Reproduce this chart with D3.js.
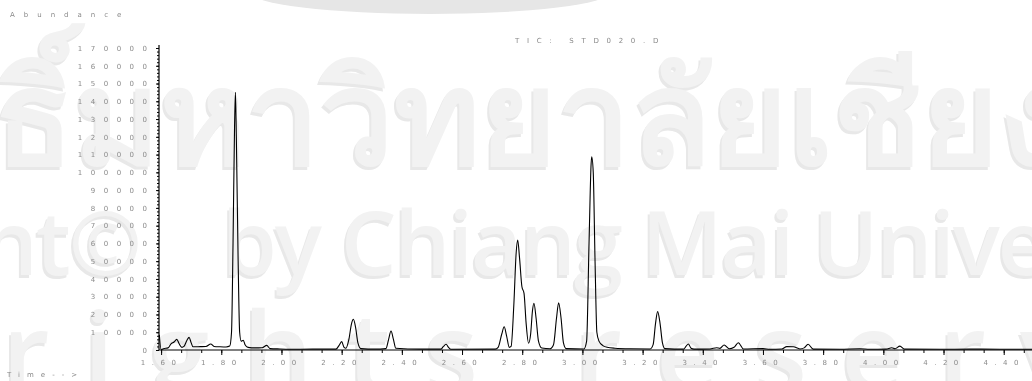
<!DOCTYPE html>
<html>
<head>
<meta charset="utf-8">
<script src="https://cdn.jsdelivr.net/npm/d3@7"></script>
<style>
  html, body { margin: 0; padding: 0; background: #fff; }
  svg { display: block; }
  .lbl { font-family: "DejaVu Sans", sans-serif; font-size: 7px; fill: #8a8a8a; }
  .wm { font-family: "Open Sans", "DejaVu Sans", sans-serif; }
</style>
</head>
<body>
<svg id="chart" width="1032" height="381"></svg>
<script>
// Total ion chromatogram, retention time (min) vs abundance
const retentionTime = [
  1.594, 1.600, 1.610, 1.623, 1.633, 1.643, 1.652, 1.660, 1.669, 1.676,
  1.686, 1.693, 1.700, 1.706, 1.730, 1.749, 1.765, 1.776, 1.796, 1.816,
  1.828, 1.834, 1.839, 1.844, 1.847, 1.850, 1.856, 1.861, 1.866, 1.873,
  1.879, 1.889, 1.912, 1.936, 1.951, 1.962, 1.995, 2.062, 2.128, 2.181,
  2.191, 2.200, 2.208, 2.214, 2.224, 2.233, 2.239, 2.246, 2.254, 2.264,
  2.311, 2.347, 2.356, 2.364, 2.372, 2.380, 2.460, 2.530, 2.538, 2.547,
  2.555, 2.563, 2.710, 2.720, 2.732, 2.740, 2.748, 2.757, 2.763, 2.772,
  2.780, 2.785, 2.791, 2.799, 2.806, 2.813, 2.821, 2.828, 2.834, 2.839,
  2.846, 2.854, 2.865, 2.892, 2.904, 2.914, 2.921, 2.929, 2.937, 2.946,
  3.005, 3.014, 3.022, 3.029, 3.031, 3.036, 3.042, 3.048, 3.055, 3.068,
  3.082, 3.108, 3.158, 3.225, 3.235, 3.243, 3.250, 3.258, 3.266, 3.274,
  3.337, 3.344, 3.352, 3.361, 3.371, 3.424, 3.446, 3.457, 3.471, 3.488,
  3.504, 3.518, 3.535, 3.600, 3.623, 3.663, 3.679, 3.701, 3.723, 3.737,
  3.750, 3.767, 3.856, 3.922, 3.955, 4.009, 4.028, 4.039, 4.055, 4.070,
  4.188, 4.288, 4.387, 4.494
];
const abundance = [
  8500, 300, 800, 1200, 3500, 4500, 6000, 3500, 1500, 2000,
  5500, 7100, 4000, 1800, 1900, 2000, 3400, 2000, 1800, 1700,
  2200, 10000, 60000, 125000, 145000, 120000, 50000, 10000, 5000, 5500,
  3000, 1500, 1200, 1300, 2600, 800, 600, 400, 500, 500,
  2500, 4700, 1500, 1000, 6000, 15000, 17300, 13000, 4000, 800,
  500, 800, 6000, 10700, 6000, 1000, 500, 500, 2000, 3200,
  1500, 400, 500, 1500, 9000, 13100, 8000, 1500, 2000, 25000,
  55000, 61900, 52000, 35600, 31900, 15000, 3800, 9000, 22000, 26300,
  18000, 5000, 1100, 700, 3000, 18000, 26600, 18000, 4000, 800,
  600, 5000, 60000, 105000, 108800, 100000, 50000, 10000, 5000, 2500,
  1500, 1000, 700, 600, 3000, 15000, 21600, 15000, 4000, 800,
  500, 2000, 3400, 1000, 500, 600, 1300, 900, 2800, 700,
  1500, 4100, 600, 800, 400, 600, 1900, 1800, 600, 1200,
  3200, 500, 400, 700, 400, 500, 1300, 700, 2200, 500,
  400, 500, 400, 400
];
const yTickValues = d3.range(0, 170001, 10000);
const xTickValues = [1.60, 1.80, 2.00, 2.20, 2.40, 2.60, 2.80, 3.00, 3.20, 3.40, 3.60, 3.80, 4.00, 4.20, 4.40];
const titleText = "TIC: STD020.D";
const yAxisTitle = "Abundance";
const xAxisTitle = "Time-->";

const svg = d3.select("#chart");

// faint background watermark
const wm = svg.append("g").attr("class", "wm");
wm.append("ellipse").attr("cx", 430).attr("cy", -8).attr("rx", 180).attr("ry", 22).attr("fill", "#e6e6e6");
function wmText(str, x, y, size, ls, weight, anchor) {
  [["#e8e8e8", -2, 3], ["#f2f2f2", 0, 0]].forEach(([c, dx, dy]) => {
    wm.append("text").attr("x", x + dx).attr("y", y + dy)
      .attr("font-size", size).attr("font-weight", weight)
      .attr("text-anchor", anchor || "start")
      .attr("letter-spacing", ls).attr("fill", c).text(str);
  });
}
wmText("ธิ์มหาวิทยาลัยเชียงใหม่", -6, 164, 131, 0, 700);
wmText("Copyright©", 140, 275, 88, -2, 600, "end");
wmText("by Chiang Mai University", 222, 275, 88, -2, 600);
wmText("rights reserved", 2, 392, 110, 34, 600);

const x = d3.scaleLinear().domain([1.593, 4.494]).range([159, 1032]);
const y = d3.scaleLinear().domain([0, 170000]).range([350, 48]);

// x axis: minor ticks, then major ticks with labels
const xAxisG = svg.append("g").attr("transform", "translate(0,350)");
xAxisG.append("g")
  .call(d3.axisBottom(x).tickValues(d3.range(1.6, 4.494, 0.2 / 3)).tickSize(3).tickFormat(""))
  .call(g => g.select(".domain").remove());
xAxisG.append("g")
  .call(d3.axisBottom(x).tickValues(xTickValues).tickSize(5).tickFormat(d3.format(".2f")).tickSizeOuter(0))
  .call(g => g.select(".domain").attr("d", `M${x.range()[0]},0H${x.range()[1]}`));
xAxisG.selectAll("line").attr("stroke", "#000");
xAxisG.selectAll(".domain").attr("stroke", "#000").attr("stroke-width", 1.2);
xAxisG.selectAll("text").attr("class", "lbl").attr("y", 14.5).attr("dy", 0)
  .attr("letter-spacing", 6.5).attr("font-family", null).attr("font-size", null);

// y axis: minor ticks every 2000, major every 10000 with labels
const yAxisG = svg.append("g").attr("transform", "translate(159,0)");
yAxisG.append("g")
  .call(d3.axisLeft(y).tickValues(d3.range(0, 170001, 2000)).tickSize(2).tickFormat(""))
  .call(g => g.select(".domain").remove());
yAxisG.append("g")
  .call(d3.axisLeft(y).tickValues(yTickValues).tickSize(3).tickPadding(0).tickFormat(d3.format("d")))
  .call(g => g.select(".domain").attr("d", "M0,350V45"));
yAxisG.selectAll("line").attr("stroke", "#000");
yAxisG.selectAll(".domain").attr("stroke", "#000").attr("stroke-width", 1.2);
yAxisG.selectAll("text").attr("class", "lbl").attr("x", -3.5)
  .attr("letter-spacing", 8.5).attr("font-family", null).attr("font-size", null);

// grey-scale text smoothing for the small labels
xAxisG.attr("opacity", 0.995);
yAxisG.attr("opacity", 0.995);

// chromatogram trace
const pts = retentionTime.map((t, i) => [t, abundance[i]]);
const line = d3.line().x(d => x(d[0])).y(d => y(d[1])).curve(d3.curveMonotoneX);
svg.append("path").datum(pts).attr("d", line)
  .attr("fill", "none").attr("stroke", "#000").attr("stroke-width", 1.1);

// titles
const titles = svg.append("g").attr("opacity", 0.995);
titles.append("text").attr("class", "lbl").attr("x", 515).attr("y", 43)
  .attr("letter-spacing", 7.7).text(titleText);
titles.append("text").attr("class", "lbl").attr("x", 10).attr("y", 16.5)
  .attr("letter-spacing", 9).text(yAxisTitle);
titles.append("text").attr("class", "lbl").attr("x", 7).attr("y", 377)
  .attr("letter-spacing", 7).text(xAxisTitle);
</script>
</body>
</html>
